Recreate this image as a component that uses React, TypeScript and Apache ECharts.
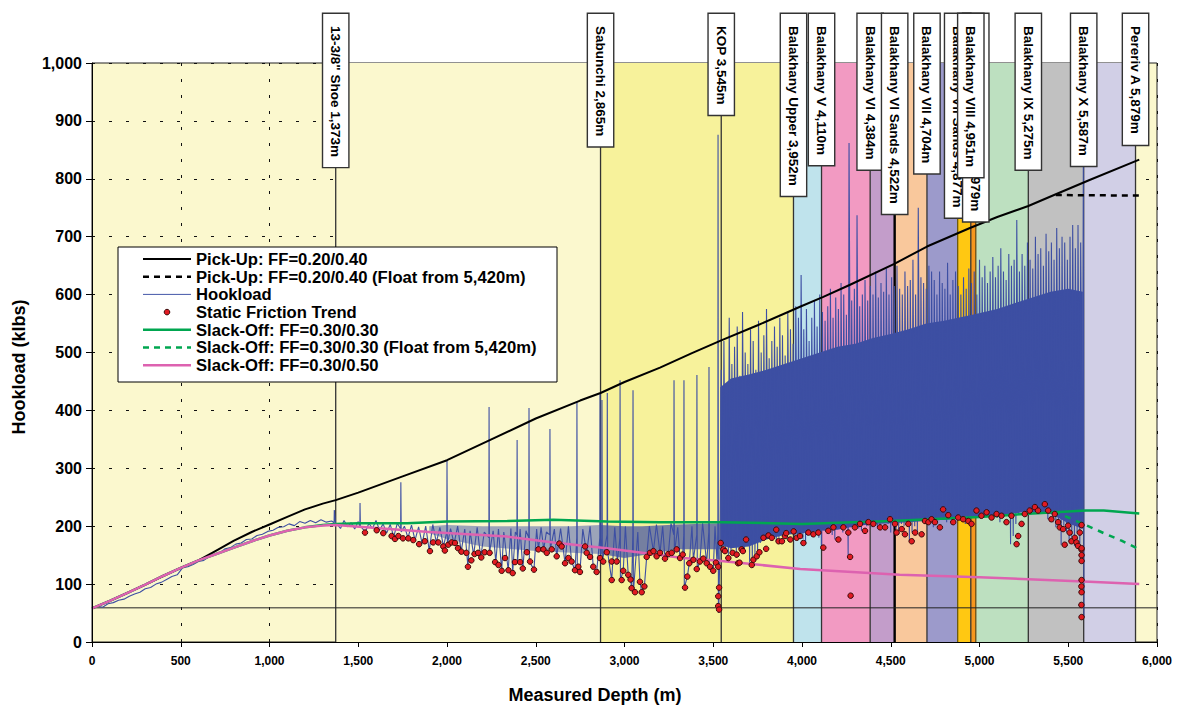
import React, { useEffect, useRef } from "react";
import * as echarts from "echarts";

const FONT = "Arial, 'Liberation Sans', Helvetica, sans-serif";

// Formation / marker depths and labels
const markerDepths = [1373, 2865, 3545, 3952, 4110, 4384, 4522, 4704, 4877, 4979, 4951, 5275, 5587, 5879];
const markerLabels = [
  '13-3/8" Shoe 1,373m',
  "Sabunchi 2,865m",
  "KOP 3,545m",
  "Balakhany Upper 3,952m",
  "Balakhany V 4,110m",
  "Balakhany VI 4,384m",
  "Balakhany VI Sands 4,522m",
  "Balakhany VII 4,704m",
  "Balakhany VII Sands 4,877m",
  "Balakhany VIII Sands 4,979m",
  "Balakhany VIII 4,951m",
  "Balakhany IX 5,275m",
  "Balakhany X 5,587m",
  "Pereriv A 5,879m",
];
const markerLineWidths = [1.3, 1.3, 1.3, 1.3, 1.3, 1.3, 2.4, 1.3, 1.3, 1.3, 1.3, 1.3, 1.3, 1.3];
const markerLineColors = ["#333", "#333", "#333", "#333", "#333", "#333", "#000", "#333", "#6b5a10", "#6b4a10", "#333", "#333", "#333", "#333"];

// Formation bands
const bandStarts = [1373, 2865, 3952, 4110, 4384, 4522, 4704, 4877, 4951, 4979, 5275, 5587];
const bandEnds = [2865, 3952, 4110, 4384, 4522, 4704, 4877, 4951, 4979, 5275, 5587, 5879];
const bandColors = ["#FBF8CE", "#F7F29B", "#BFE3EC", "#F29AC2", "#C39DCA", "#F9C89C", "#9C9ACB", "#FFC812", "#F6961E", "#BDE0C0", "#C1C1C1", "#D1CFE6"];

const blockWeight = [[0, 59], [6000, 59]];

const pickUp = [[0, 58], [100, 71], [200, 85], [300, 99], [400, 114], [500, 128], [600, 141], [700, 158], [800, 175], [900, 190], [1000, 203], [1100, 216], [1200, 229], [1300, 239], [1373, 245], [1500, 258], [1750, 286], [2000, 314], [2250, 350], [2500, 386], [2750, 417], [2865, 430], [3000, 449], [3200, 474], [3380, 499], [3545, 521], [3750, 547], [3989, 579], [4120, 596], [4271, 617], [4520, 653], [4704, 683], [4946, 715], [5100, 734], [5275, 753], [5420, 772], [5620, 798], [5900, 833]];
const pickUpFloat = [[5430, 772], [5910, 771]];
const slackOff30 = [[0, 58], [100, 71], [200, 85], [300, 99], [400, 114], [500, 128], [600, 141], [700, 152], [800, 163], [900, 174], [1000, 184], [1100, 192], [1200, 198], [1300, 202], [1373, 204], [1500, 205], [1775, 205], [2000, 208], [2340, 209], [2600, 211], [2900, 208], [3200, 207], [3545, 207], [4000, 204], [4500, 209], [5000, 216], [5300, 222], [5600, 227], [5700, 227], [5900, 222]];
const slackOff30Float = [[5420, 226], [5500, 215], [5600, 202], [5700, 188], [5800, 175], [5900, 160]];
const slackOff50 = [[0, 58], [100, 71], [200, 85], [300, 99], [400, 114], [500, 128], [600, 141], [700, 152], [800, 163], [900, 174], [1000, 184], [1100, 192], [1200, 198], [1300, 201], [1373, 202], [1600, 197], [1900, 190], [2340, 182], [2600, 172], [2900, 162], [3330, 145], [3545, 140], [3990, 126], [4550, 116], [5000, 112], [5620, 104], [5900, 100]];

// Hookload: shallow section
const hookEarly = [[0, 57], [30, 62], [60, 60], [90, 66], [120, 68], [150, 72], [180, 74], [210, 79], [240, 83], [270, 86], [300, 92], [330, 94], [360, 100], [390, 103], [420, 108], [450, 113], [480, 116], [510, 128], [540, 130], [570, 134], [600, 139], [630, 141], [660, 147], [690, 151], [720, 154], [750, 161], [780, 163], [810, 169], [840, 171], [870, 177], [900, 178], [930, 184], [960, 186], [990, 191], [1020, 193], [1050, 198], [1080, 199], [1110, 204], [1140, 201], [1170, 208], [1200, 205], [1230, 210], [1260, 206], [1290, 211], [1320, 207], [1350, 209], [1364, 206], [1365, 228], [1372, 204]];
// Hookload: 1,373m to KOP
const hookSparse = [[1380, 204], [1400, 196], [1420, 210], [1440, 199], [1460, 206], [1480, 195], [1500, 208], [1509, 200], [1510, 240], [1512, 200], [1540, 190], [1560, 205], [1580, 196], [1600, 210], [1620, 193], [1640, 204], [1660, 188], [1680, 203], [1700, 182], [1720, 205], [1739, 195], [1740, 276], [1742, 190], [1760, 200], [1780, 180], [1800, 202], [1820, 176], [1840, 199], [1860, 170], [1880, 200], [1900, 158], [1920, 203], [1940, 172], [1960, 198], [1980, 165], [1999, 190], [2000, 314], [2002, 168], [2020, 196], [2040, 170], [2060, 200], [2080, 156], [2100, 195], [2118, 130], [2130, 192], [2150, 150], [2170, 198], [2190, 146], [2210, 190], [2236, 180], [2237, 406], [2239, 154], [2260, 192], [2275, 138], [2290, 195], [2308, 123], [2320, 190], [2345, 124], [2360, 196], [2370, 119], [2385, 190], [2394, 185], [2395, 349], [2397, 138], [2412, 195], [2427, 127], [2445, 192], [2461, 180], [2462, 404], [2464, 139], [2490, 125], [2505, 195], [2515, 160], [2530, 198], [2545, 160], [2560, 190], [2579, 185], [2580, 368], [2582, 160], [2605, 195], [2618, 148], [2640, 196], [2665, 136], [2684, 200], [2702, 139], [2721, 124], [2731, 180], [2732, 415], [2734, 130], [2749, 121], [2765, 195], [2787, 154], [2806, 200], [2824, 130], [2843, 121], [2861, 180], [2862, 430], [2864, 145], [2872, 180], [2873, 418], [2875, 139], [2902, 185], [2903, 430], [2905, 155], [2928, 107], [2945, 198], [2960, 139], [2974, 180], [2975, 452], [2977, 107], [2993, 123], [3005, 200], [3021, 116], [3034, 108], [3040, 93], [3047, 185], [3048, 435], [3050, 86], [3075, 190], [3087, 104], [3097, 86], [3112, 96], [3125, 147], [3140, 200], [3163, 157], [3180, 203], [3200, 154], [3215, 200], [3228, 144], [3247, 152], [3262, 205], [3278, 185], [3279, 452], [3281, 154], [3300, 198], [3313, 145], [3328, 151], [3334, 185], [3335, 452], [3337, 94], [3354, 113], [3365, 136], [3380, 200], [3388, 142], [3407, 185], [3408, 461], [3410, 126], [3425, 139], [3440, 205], [3463, 136], [3475, 190], [3476, 475], [3478, 130], [3500, 123], [3510, 200], [3521, 137], [3526, 190], [3527, 876], [3529, 62], [3531, 50], [3538, 171]];
// Hookload: dense reciprocation section, every 15 m from 3,540m
const denseStart = 3540;
const denseStep = 15;
const densePeaks = [
  470, 520, 430, 560, 480, 510, 545, 460, 570, 500,
  480, 540, 520, 470, 555, 500, 530, 575, 490, 520,
  545, 510, 560, 530, 495, 570, 540, 515, 580, 560,
  634, 540, 575, 520, 560, 590, 545, 600, 570, 555,
  580, 610, 560, 595, 575, 620, 600, 565, 862, 590,
  610, 737, 580, 600, 625, 590, 615, 600, 640, 595,
  620, 605, 645, 600, 630, 615, 650, 610, 600, 640,
  615, 625, 660, 600, 750, 630, 620, 610, 650, 640,
  625, 600, 640, 620, 610, 655, 600, 625, 640, 615,
  600, 630, 610, 645, 620, 640, 600, 660, 630, 650,
  620, 640, 665, 630, 650, 680, 640, 625, 670, 650,
  660, 729, 640, 670, 650, 690, 660, 645, 700, 670,
  680, 650, 705, 675, 690, 660, 715, 680, 700, 690,
  660, 700, 720, 680, 720, 690, 830,
];
const denseTroughs = [
  171, 160, 157, 150, 154, 170, 145, 160, 177, 160,
  175, 133, 142, 150, 155, 171, 183, 180, 184, 175,
  194, 174, 180, 188, 183, 177, 191, 192, 180, 185,
  183, 178, 171, 189, 186, 190, 189, 180, 163, 192,
  192, 198, 185, 177, 198, 195, 189, 200, 147, 198,
  198, 204, 196, 192, 207, 200, 204, 198, 202, 198,
  198, 205, 212, 204, 189, 200, 195, 186, 204, 200,
  204, 174, 189, 200, 186, 209, 207, 212, 205, 207,
  198, 210, 229, 219, 212, 207, 215, 210, 215, 212,
  209, 212, 204, 215, 227, 222, 218, 224, 220, 215,
  221, 218, 225, 218, 214, 207, 218, 222, 218, 169,
  183, 204, 221, 225, 227, 233, 230, 227, 235, 238,
  238, 227, 230, 212, 221, 207, 198, 195, 168, 201,
  189, 174, 180, 166, 189, 160, 200,
];
const hookTail = [[5588, 43]];

// Solid body of the hookload trace (where the recording is too dense to separate)
const massDepths = [
  [1900, 2000, 2200, 2500, 2700, 2865],
  [2865, 3000, 3100, 3300, 3540],
  [3540, 3600, 3700, 3800, 3900, 4000, 4100, 4200, 4300, 4400, 4500, 4600, 4700, 4800, 4960, 5100, 5245, 5400, 5500, 5582],
];
const massUpper = [
  [200, 202, 200, 200, 200, 202],
  [202, 200, 200, 203, 205],
  [440, 455, 462, 470, 480, 490, 500, 510, 515, 525, 532, 540, 550, 555, 565, 575, 590, 605, 610, 605],
];
const massLower = [
  [188, 178, 165, 157, 154, 152],
  [152, 145, 150, 160, 160],
  [168, 162, 165, 177, 185, 188, 192, 194, 200, 204, 205, 207, 209, 211, 215, 218, 224, 222, 205, 195],
];
const massOpacity = [0.5, 0.7, 1];

const staticFriction = [[1538, 189], [1604, 193], [1641, 188], [1688, 183], [1707, 178], [1726, 183], [1752, 179], [1782, 179], [1810, 176], [1843, 169], [1875, 174], [1904, 157], [1922, 172], [1951, 172], [1979, 165], [1988, 158], [2007, 168], [2026, 172], [2045, 171], [2062, 162], [2081, 156], [2109, 154], [2118, 130], [2137, 141], [2155, 152], [2175, 154], [2193, 146], [2212, 155], [2240, 154], [2271, 138], [2290, 133], [2308, 123], [2327, 145], [2346, 124], [2370, 119], [2383, 138], [2412, 138], [2427, 127], [2450, 155], [2468, 139], [2490, 125], [2515, 160], [2543, 160], [2562, 154], [2590, 160], [2618, 148], [2633, 170], [2646, 165], [2665, 136], [2684, 145], [2702, 139], [2721, 124], [2740, 130], [2749, 121], [2778, 165], [2787, 154], [2806, 147], [2824, 130], [2843, 121], [2862, 145], [2880, 139], [2900, 155], [2928, 139], [2956, 139], [2928, 107], [2984, 107], [2993, 123], [3021, 116], [3034, 108], [3040, 93], [3059, 86], [3087, 104], [3097, 86], [3112, 96], [3125, 147], [3144, 154], [3163, 157], [3181, 148], [3200, 154], [3228, 144], [3247, 152], [3266, 154], [3294, 160], [3313, 145], [3328, 151], [3341, 94], [3354, 113], [3365, 136], [3388, 142], [3407, 126], [3425, 139], [3444, 144], [3463, 136], [3482, 130], [3500, 123], [3515, 137], [3528, 130], [3533, 94], [3528, 79], [3528, 62], [3533, 56], [3542, 171], [3557, 160], [3566, 157], [3585, 145], [3609, 154], [3632, 151], [3640, 136], [3648, 137], [3660, 160], [3667, 157], [3685, 177], [3717, 133], [3726, 142], [3745, 148], [3760, 155], [3783, 180], [3798, 161], [3811, 184], [3830, 180], [3855, 194], [3868, 174], [3887, 174], [3904, 183], [3911, 188], [3934, 177], [3953, 191], [3970, 180], [3989, 183], [4008, 171], [4036, 189], [4064, 186], [4092, 189], [4120, 163], [4148, 192], [4177, 198], [4205, 177], [4233, 198], [4261, 189], [4271, 147], [4274, 80], [4298, 198], [4327, 204], [4355, 192], [4374, 207], [4402, 204], [4440, 198], [4468, 198], [4496, 212], [4524, 204], [4533, 189], [4562, 195], [4580, 186], [4599, 204], [4618, 174], [4637, 189], [4674, 186], [4693, 209], [4712, 207], [4730, 212], [4749, 207], [4777, 198], [4795, 229], [4824, 219], [4852, 207], [4880, 215], [4908, 212], [4937, 209], [4955, 204], [4983, 227], [5011, 218], [5040, 224], [5068, 215], [5096, 221], [5124, 218], [5152, 207], [5180, 218], [5209, 169], [5218, 183], [5237, 204], [5255, 221], [5283, 227], [5312, 233], [5330, 227], [5368, 238], [5387, 227], [5405, 212], [5424, 221], [5443, 207], [5452, 198], [5471, 195], [5480, 168], [5499, 201], [5508, 189], [5518, 174], [5537, 180], [5546, 172], [5555, 166], [5565, 189], [5574, 160], [5575, 202], [5575, 162], [5575, 150], [5575, 140], [5575, 107], [5574, 96], [5575, 86], [5574, 64], [5575, 43]];

const legendLabels = [
  "Pick-Up: FF=0.20/0.40",
  "Pick-Up: FF=0.20/0.40 (Float from 5,420m)",
  "Hookload",
  "Static Friction Trend",
  "Slack-Off: FF=0.30/0.30",
  "Slack-Off: FF=0.30/0.30 (Float from 5,420m)",
  "Slack-Off: FF=0.30/0.50",
];
const xAxisTitle = "Measured Depth (m)";
const yAxisTitle = "Hookload (klbs)";

const fmt = (v: number) => v.toLocaleString("en-US");

export default function App() {
  const ref = useRef<HTMLDivElement>(null);
  useEffect(() => {
    document.body.style.margin = "0";
    const chart = echarts.init(ref.current!, undefined, { renderer: "svg" });

    const hookData: number[][] = [...hookEarly, ...hookSparse];
    denseTroughs.forEach((t, i) => {
      const d = denseStart + i * denseStep;
      hookData.push([d, t]);
      hookData.push([d + 5, densePeaks[i]]);
    });
    hookData.push(...hookTail);

    const legendRowY = (i: number) => 259 + i * 17.7;
    const legendIcons: any[] = [];
    const iconStyles = [
      { stroke: "#000", lineWidth: 2 },
      { stroke: "#000", lineWidth: 2.5, lineDash: [6, 5] },
      { stroke: "#4457A8", lineWidth: 1 },
      null,
      { stroke: "#00A650", lineWidth: 2.5 },
      { stroke: "#00A650", lineWidth: 2.5, lineDash: [6, 5] },
      { stroke: "#DD62B0", lineWidth: 2.5 },
    ];
    legendLabels.forEach((t, i) => {
      const y = legendRowY(i);
      const st = iconStyles[i];
      if (st) {
        legendIcons.push({ type: "line", z: 100, shape: { x1: 143, y1: y, x2: 191, y2: y }, style: st });
      } else {
        legendIcons.push({ type: "circle", z: 100, shape: { cx: 167, cy: y, r: 2.8 }, style: { fill: "#E11B22", stroke: "#3a0a0a", lineWidth: 1 } });
      }
      legendIcons.push({
        type: "text", z: 100, x: 196, y, scaleX: 1.04,
        style: { text: t, font: `bold 16px ${FONT}`, fill: "#000", align: "left", verticalAlign: "middle" },
      });
    });

    const axisLabelBase = { fontFamily: FONT, fontWeight: "bold", color: "#000" };

    const option: any = {
      animation: false,
      backgroundColor: "#ffffff",
      grid: { left: 92, right: 27, top: 63, bottom: 67, show: true, backgroundColor: "#FBF8CE", borderColor: "#222", borderWidth: 1 },
      xAxis: [
        {
          type: "value", min: 0, max: 6000, interval: 500, z: 6,
          axisLine: { show: true, onZero: false, lineStyle: { color: "#000", width: 1 } },
          axisTick: { show: true, length: 5, lineStyle: { color: "#000" } },
          axisLabel: { ...axisLabelBase, fontSize: 12, margin: 13, formatter: fmt },
          splitLine: { show: false },
        },
        {
          type: "value", min: 0, max: 6000, interval: 500, z: 0, position: "bottom",
          axisLine: { show: false }, axisTick: { show: false }, axisLabel: { show: false },
          splitLine: { show: true, lineStyle: { color: "#111", type: [3, 13], width: 1 } },
        },
      ],
      yAxis: [
        {
          type: "value", min: 0, max: 1000, interval: 100, z: 6,
          axisLine: { show: true, onZero: false, lineStyle: { color: "#000", width: 1 } },
          axisTick: { show: true, length: 6, lineStyle: { color: "#000" } },
          axisLabel: { ...axisLabelBase, fontSize: 16, margin: 10, formatter: fmt },
          splitLine: { show: false },
        },
        {
          type: "value", min: 0, max: 1000, interval: 100, z: 0, position: "left",
          axisLine: { show: false }, axisTick: { show: false }, axisLabel: { show: false },
          splitLine: { show: true, lineStyle: { color: "#111", type: [3, 14], width: 1 } },
        },
      ],
      graphic: [
        { type: "rect", z: 99, shape: { x: 118, y: 247, width: 439, height: 135 }, style: { fill: "#fff", stroke: "#000", lineWidth: 1 } },
        ...legendIcons,
        {
          type: "text", z: 100, x: 595, y: 695,
          style: { text: xAxisTitle, font: `bold 18px ${FONT}`, fill: "#000", align: "center", verticalAlign: "middle" },
        },
        {
          type: "text", z: 100, x: 19, y: 367, rotation: Math.PI / 2,
          style: { text: yAxisTitle, font: `bold 18px ${FONT}`, fill: "#000", align: "center", verticalAlign: "middle" },
        },
      ],
      series: [
        {
          name: "Block", type: "line", data: blockWeight, symbol: "none", silent: true, z: 2,
          lineStyle: { color: "#222", width: 1 },
          markArea: {
            silent: true,
            data: bandStarts.map((s, i) => [
              { xAxis: s, yAxis: 0, itemStyle: { color: bandColors[i], opacity: 1 } },
              { xAxis: bandEnds[i], yAxis: 1000 },
            ]),
          },
        },
        {
          name: "markerLines", type: "custom", coordinateSystem: "cartesian2d", clip: false, silent: true, z: 2,
          data: markerDepths.map((d, i) => [d, 0, i]),
          encode: { x: 0, y: 1 },
          renderItem: (params: any, api: any) => {
            const i = params.dataIndex;
            const p = api.coord([api.value(0), 0]);
            return {
              type: "line",
              shape: { x1: p[0], y1: 14, x2: p[0], y2: p[1] },
              style: { stroke: markerLineColors[i], lineWidth: markerLineWidths[i] },
            };
          },
        },
        {
          name: "HookloadBody", type: "custom", coordinateSystem: "cartesian2d", silent: true, z: 3,
          data: massDepths.map((ds, k) => [ds[0], massUpper[k][0], k]),
          encode: { x: 0, y: 1 },
          renderItem: (params: any, api: any) => {
            const k = params.dataIndex;
            const ds = massDepths[k];
            const pts: number[][] = [];
            ds.forEach((d, j) => pts.push(api.coord([d, massUpper[k][j]])));
            for (let j = ds.length - 1; j >= 0; j--) pts.push(api.coord([ds[j], massLower[k][j]]));
            return { type: "polygon", shape: { points: pts }, style: { fill: "#3D4FA3", opacity: massOpacity[k] } };
          },
        },
        {
          name: "Hookload", type: "line", data: hookData, symbol: "none", showSymbol: false, silent: true, z: 3,
          lineStyle: { color: "#3D4FA3", width: 1.1 },
        },
        {
          name: "Slack-Off: FF=0.30/0.30", type: "line", data: slackOff30, symbol: "none", silent: true, z: 3,
          lineStyle: { color: "#00A650", width: 2.5 },
        },
        {
          name: "Slack-Off: FF=0.30/0.30 (Float from 5,420m)", type: "line", data: slackOff30Float, symbol: "none", silent: true, z: 3,
          lineStyle: { color: "#00A650", width: 2.5, type: [6, 6] },
        },
        {
          name: "Pick-Up: FF=0.20/0.40", type: "line", data: pickUp, symbol: "none", silent: true, z: 3,
          lineStyle: { color: "#000", width: 2 },
        },
        {
          name: "Pick-Up: FF=0.20/0.40 (Float from 5,420m)", type: "line", data: pickUpFloat, symbol: "none", silent: true, z: 3,
          lineStyle: { color: "#000", width: 2.5, type: [6, 5] },
        },
        {
          name: "Slack-Off: FF=0.30/0.50", type: "line", data: slackOff50, symbol: "none", silent: true, z: 3,
          lineStyle: { color: "#DD62B0", width: 2.5 },
        },
        {
          name: "Static Friction Trend", type: "scatter", data: staticFriction, symbol: "circle", symbolSize: 5.5, silent: true, z: 4,
          itemStyle: { color: "#E11B22", borderColor: "#3a0a0a", borderWidth: 1, opacity: 1 },
        },
        {
          name: "markerLabels", type: "custom", coordinateSystem: "cartesian2d", clip: false, silent: true, z: 10,
          data: markerDepths.map((d, i) => [d, 1000, i]),
          encode: { x: 0, y: 1 },
          renderItem: (params: any, api: any) => {
            const i = params.dataIndex;
            const p = api.coord([api.value(0), 1000]);
            return {
              type: "text",
              x: p[0],
              y: 14,
              rotation: -Math.PI / 2,
              style: {
                text: markerLabels[i],
                font: `bold 13.5px ${FONT}`,
                fill: "#000",
                align: "left",
                verticalAlign: "middle",
                padding: [6, 10, 5, 12],
                backgroundColor: "#ffffff",
                borderColor: "#333",
                borderWidth: 1.4,
              },
            };
          },
        },
      ],
    };
    chart.setOption(option);
    return () => chart.dispose();
  }, []);
  return <div ref={ref} style={{ width: 1184, height: 709 }} />;
}
